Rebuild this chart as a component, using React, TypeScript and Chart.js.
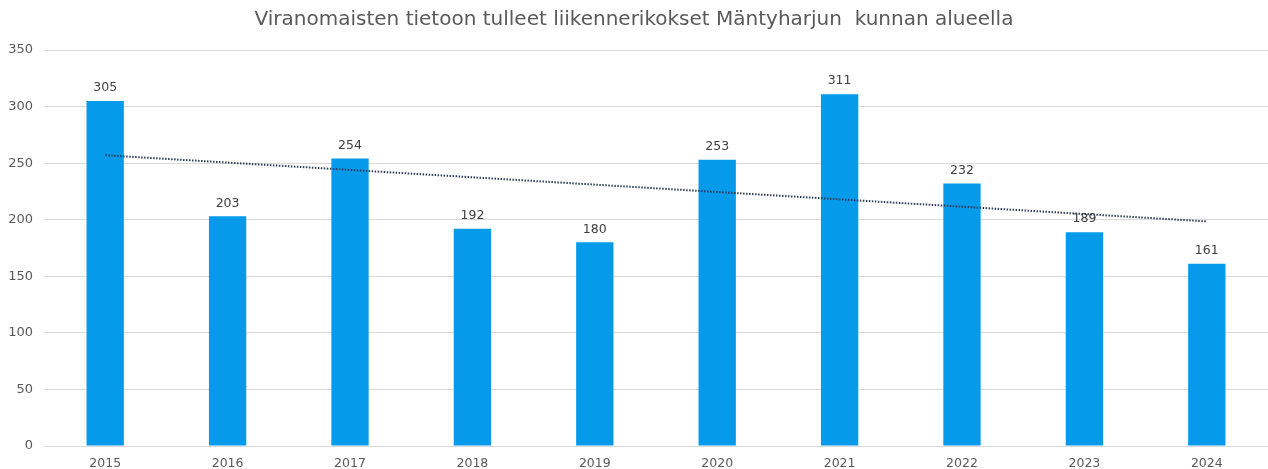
import React, { useEffect, useRef } from "react";
import { Chart, registerables } from "chart.js";

Chart.register(...registerables);

const titleText = "Viranomaisten tietoon tulleet liikennerikokset Mäntyharjun  kunnan alueella";
const categories = ["2015", "2016", "2017", "2018", "2019", "2020", "2021", "2022", "2023", "2024"];
const offenceCounts = [305, 203, 254, 192, 180, 253, 311, 232, 189, 161];
// Trend line: start (2015) and end (2024) values
const trendValues = [257, null, null, null, null, null, null, null, null, 198.5];
const yTicks = [0, 50, 100, 150, 200, 250, 300, 350];

const FONT = "'DejaVu Sans', Verdana, sans-serif";

const barLabelPlugin = {
  id: "barLabels",
  afterDatasetsDraw(chart: any) {
    const meta = chart.getDatasetMeta(0);
    const ctx = chart.ctx;
    ctx.save();
    ctx.font = `12.5px ${FONT}`;
    ctx.fillStyle = "#404040";
    ctx.textAlign = "center";
    ctx.textBaseline = "middle";
    meta.data.forEach((bar: any, i: number) => {
      ctx.fillText(String(offenceCounts[i]), bar.x, bar.y - 13);
    });
    ctx.restore();
  },
};

export default function App() {
  const ref = useRef<HTMLCanvasElement | null>(null);
  useEffect(() => {
    if (!ref.current) return;
    const chart = new Chart(ref.current, {
      type: "bar",
      data: {
        labels: categories,
        datasets: [
          {
            type: "bar",
            data: offenceCounts,
            backgroundColor: "#069BEA",
            borderWidth: 0,
            categoryPercentage: 1,
            barPercentage: 0.305,
            order: 2,
          },
          {
            type: "line",
            data: trendValues as any,
            spanGaps: true,
            borderColor: "#2E3B57",
            borderWidth: 2,
            borderDash: [1.5, 1.5],
            pointRadius: 0,
            fill: false,
            order: 1,
          },
        ],
      },
      options: {
        animation: false,
        responsive: false,
        maintainAspectRatio: false,
        layout: { padding: { left: 0, right: 0, top: 0, bottom: 0 } },
        plugins: {
          legend: { display: false },
          tooltip: { enabled: false },
          title: {
            display: true,
            text: titleText,
            color: "#595959",
            font: { family: FONT, size: 20, weight: "normal" },
            padding: { top: 8, bottom: 18 },
          },
        },
        scales: {
          x: {
            afterFit: (s: any) => {
              s.height = 23;
            },
            grid: { display: false, drawTicks: false },
            border: { display: false },
            ticks: {
              color: "#595959",
              font: { family: FONT, size: 12.5 },
              padding: 10,
            },
          },
          y: {
            min: 0,
            max: 350,
            afterFit: (s: any) => {
              s.width = 44;
            },
            afterBuildTicks: (s: any) => {
              s.ticks = yTicks.map((v) => ({ value: v }));
            },
            grid: { color: "#D9D9D9", lineWidth: 1, drawTicks: false },
            border: { display: false },
            ticks: {
              color: "#595959",
              font: { family: FONT, size: 13 },
              padding: 11,
            },
          },
        },
      },
      plugins: [barLabelPlugin],
    });
    return () => chart.destroy();
  }, []);
  return (
    <div style={{ position: "fixed", left: 0, top: 0, width: 1268, height: 469, background: "#fff" }}>
      <canvas ref={ref} width={1268} height={469} style={{ display: "block" }} />
    </div>
  );
}
